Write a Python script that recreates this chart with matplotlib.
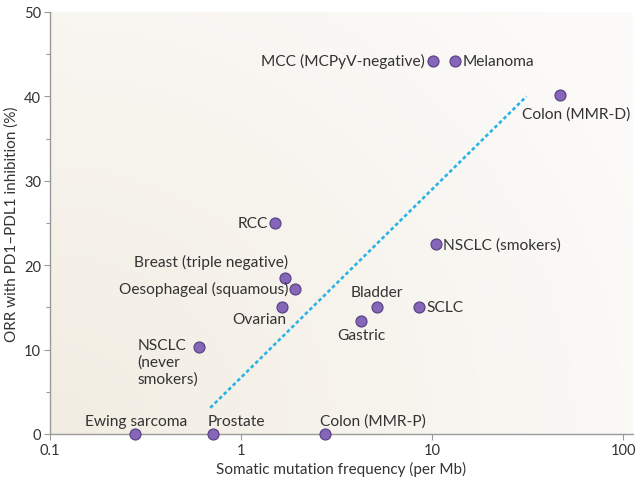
import numpy as np
import matplotlib
matplotlib.use("Agg")
import matplotlib.pyplot as plt
from matplotlib.colors import LinearSegmentedColormap
from matplotlib.ticker import FixedLocator, NullLocator, MultipleLocator

plt.rcParams['font.family'] = ['Lato', 'DejaVu Sans']

# ---- data ----
cancers = ["MCC (MCPyV-negative)", "Melanoma", "Colon (MMR-D)", "RCC", "NSCLC (smokers)",
           "Breast (triple negative)", "Oesophageal (squamous)", "Ovarian",
           "NSCLC\n(never\nsmokers)", "Bladder", "Gastric", "SCLC",
           "Ewing sarcoma", "Prostate", "Colon (MMR-P)"]
mutation_freq = [10.1, 13.2, 47.0, 1.51, 10.5, 1.70, 1.92, 1.64, 0.60, 5.15, 4.25, 8.55, 0.279, 0.713, 2.75]
orr = [44.2, 44.2, 40.2, 25.0, 22.5, 18.5, 17.2, 15.0, 10.3, 15.0, 13.4, 15.0, 0.0, 0.0, 0.0]
trend_x = [0.69, 31.2]
trend_y = [3.1, 40.0]
x_ticks = [0.1, 1, 10, 100]
x_tick_labels = ["0.1", "1", "10", "100"]
y_ticks = [0, 10, 20, 30, 40, 50]

# label placement: (offset x px, offset y px, ha, va)
label_pos = [(-8, 0, 'right', 'center'), (8, 0, 'left', 'center'), (16, -19, 'center', 'center'),
             (-7, 0, 'right', 'center'), (7, 0, 'left', 'center'),
             (3, 16, 'right', 'center'), (-7, 0, 'right', 'center'), (4, -12, 'right', 'center'),
             (-61, 9, 'left', 'top'), (0, 15, 'center', 'center'), (0, -14, 'center', 'center'),
             (7, 0, 'left', 'center'),
             (1, 13, 'center', 'center'), (-5, 13, 'left', 'center'), (-5, 13, 'left', 'center')]

W, H = 643, 485
fig = plt.figure(figsize=(W / 100, H / 100), dpi=100)
fig.patch.set_facecolor('white')
ax = fig.add_axes([50 / W, (H - 435) / H, (633 - 50) / W, (435 - 13) / H])

# background radial gradient
ny, nx = 200, 300
yy, xx = np.mgrid[0:1:ny * 1j, 0:1:nx * 1j]
r = np.sqrt((xx * 1.3) ** 2 + (yy * 1.0) ** 2)
r = np.clip(r / 1.5, 0, 1)
cmap = LinearSegmentedColormap.from_list('bg', ['#f2ede2', '#f7f4ee', '#fcfbf9'])
ax.imshow(r, cmap=cmap, origin='lower', extent=[0, 1, 0, 1], transform=ax.transAxes,
          aspect='auto', zorder=0, vmin=0, vmax=1, interpolation='bilinear')

ax.set_xscale('log')
ax.set_xlim(0.1, 112.7)
ax.set_ylim(0, 50)

ax.plot(trend_x, trend_y, color='#2bb3e6', lw=1.9, dashes=(1.4, 1.0), zorder=2)

ax.scatter(mutation_freq, orr, s=62, color='#8566b8', edgecolor='#5a4486', linewidth=0.9,
           zorder=5, clip_on=False)

for name, x, y, (dx, dy, ha, va) in zip(cancers, mutation_freq, orr, label_pos):
    ax.annotate(name, (x, y), xytext=(dx, dy), textcoords='offset pixels', ha=ha, va=va,
                fontsize=11.2, color='#333333', linespacing=1.2, zorder=6)

ax.xaxis.set_major_locator(FixedLocator(x_ticks))
ax.set_xticklabels(x_tick_labels)
ax.xaxis.set_minor_locator(NullLocator())
ax.yaxis.set_major_locator(FixedLocator(y_ticks))
ax.yaxis.set_minor_locator(MultipleLocator(5))

for s in ['top', 'right']:
    ax.spines[s].set_visible(False)
for s in ['left', 'bottom']:
    ax.spines[s].set_color('#9a9a9a')
    ax.spines[s].set_linewidth(1.0)

ax.tick_params(axis='both', which='both', color='#9a9a9a', labelcolor='#333333', labelsize=10.5)
ax.tick_params(axis='both', which='major', length=4, width=0.8, pad=2.5)
ax.tick_params(axis='y', which='minor', length=3, width=0.8)

ax.set_xlabel('Somatic mutation frequency (per Mb)', fontsize=11, color='#333333', labelpad=3)
ax.set_ylabel('ORR with PD1\u2013PDL1 inhibition (%)', fontsize=11, color='#333333', labelpad=4)

fig.savefig('out.png', dpi=100)
